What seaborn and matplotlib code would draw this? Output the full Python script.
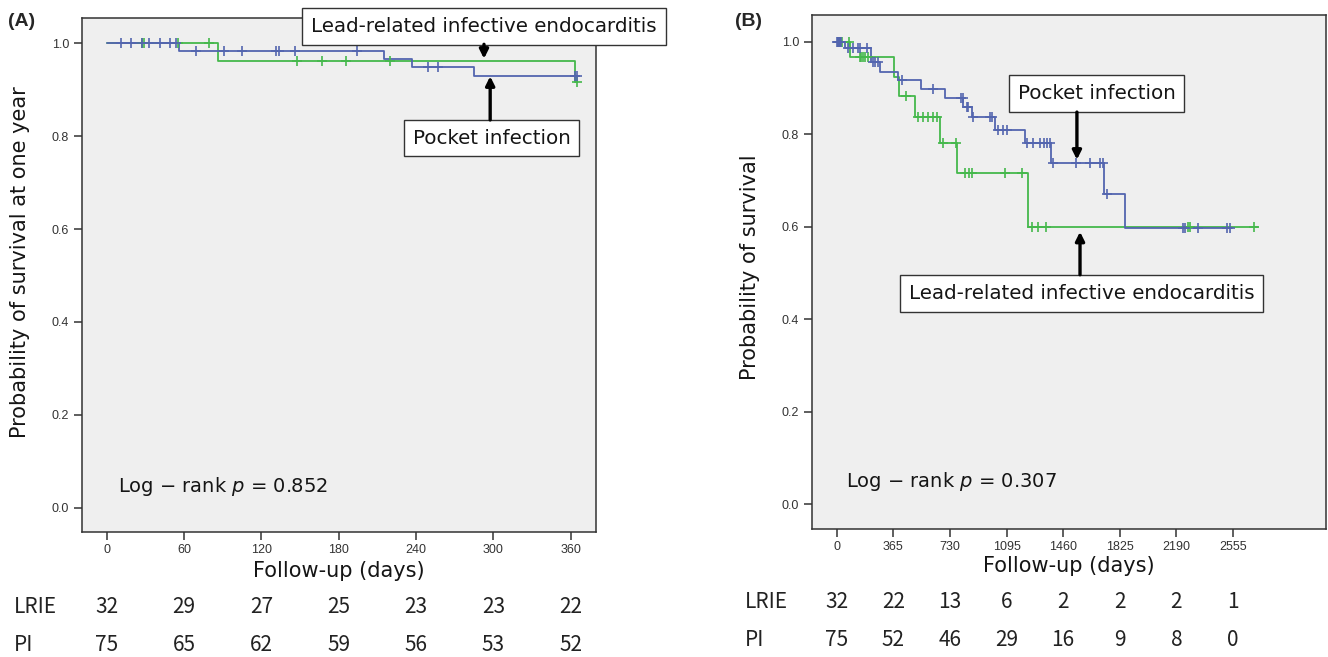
import numpy as np
import matplotlib
matplotlib.use("Agg")
import matplotlib.pyplot as plt
import seaborn as sns

# ---- panel A data (one-year follow-up) ----
a_lrie_times = [0, 86, 363, 365]
a_lrie_surv = [1.0, 0.963, 0.917, 0.917]
a_lrie_cens = [27, 29, 55, 79, 148, 167, 186, 220, 365]

a_pi_times = [0, 56, 215, 237, 285, 365]
a_pi_surv = [1.0, 0.983, 0.966, 0.950, 0.930, 0.930]
a_pi_cens = [11, 19, 27, 33, 41, 49, 54, 69, 91, 105, 131, 134, 146, 194,
             249, 257, 363, 365]

# ---- panel B data (whole follow-up) ----
b_lrie_times = [0, 86, 369, 404, 505, 666, 778, 1233, 2716]
b_lrie_surv = [1.0, 0.968, 0.924, 0.883, 0.838, 0.782, 0.717, 0.599, 0.599]
b_lrie_cens = [8, 20, 35, 77, 148, 159, 170, 180, 202, 445, 526, 558, 590,
               622, 647, 688, 771, 827, 851, 872, 1085, 1193, 1257, 1300,
               1349, 2267, 2278, 2690]

b_pi_times = [0, 52, 220, 277, 395, 546, 698, 815, 870, 1018, 1214, 1380,
              1722, 1857, 2547]
b_pi_surv = [1.0, 0.987, 0.956, 0.935, 0.917, 0.898, 0.878, 0.859, 0.838,
             0.810, 0.782, 0.737, 0.671, 0.597, 0.597]
b_pi_cens = [3, 8, 13, 18, 24, 30, 75, 107, 140, 150, 193, 236, 250, 266,
             419, 621, 800, 812, 838, 848, 881, 988, 999, 1042, 1074, 1100,
             1229, 1268, 1311, 1337, 1354, 1375, 1397, 1543, 1633, 1698,
             1715, 1745, 2231, 2246, 2331, 2514, 2536]

# ---- numbers at risk ----
a_ticks = [0, 60, 120, 180, 240, 300, 360]
a_risk_lrie = [32, 29, 27, 25, 23, 23, 22]
a_risk_pi = [75, 65, 62, 59, 56, 53, 52]

b_ticks = [0, 365, 730, 1095, 1460, 1825, 2190, 2555]
b_risk_lrie = [32, 22, 13, 6, 2, 2, 2, 1]
b_risk_pi = [75, 52, 46, 29, 16, 9, 8, 0]

y_ticks = [0.0, 0.2, 0.4, 0.6, 0.8, 1.0]

GREEN = "#45B84C"
BLUE = "#5365AF"
BG = "#EFEFEF"
TEXT = "#151515"
TABLE_FONT = ["Noto Sans CJK JP", "DejaVu Sans"]

sns.set_theme(style="ticks")
plt.rcParams["font.family"] = ["DejaVu Sans"]

W, H = 1328, 657
fig = plt.figure(figsize=(W / 100, H / 100), dpi=100)


def surv_at(times, surv, t):
    idx = np.searchsorted(times, t, side="right") - 1
    return [surv[i] for i in idx]


def draw_km(ax, times, surv, cens, color):
    sns.lineplot(x=times, y=surv, drawstyle="steps-post", color=color,
                 lw=1.3, estimator=None, sort=False, ax=ax)
    sns.scatterplot(x=cens, y=surv_at(times, surv, cens), marker="+",
                    color=color, s=42, linewidth=1.2, ax=ax, zorder=3)


def style_axes(ax, xticks, xlim, ylim, ylabel, xlabel_y, ylabel_pos):
    ax.set_facecolor(BG)
    ax.set_xlim(*xlim)
    ax.set_ylim(*ylim)
    ax.set_xticks(xticks)
    ax.set_yticks(y_ticks)
    ax.set_yticklabels([f"{v:.1f}" for v in y_ticks])
    for lab in ax.get_xticklabels() + ax.get_yticklabels():
        lab.set_family("Liberation Sans")
        lab.set_fontsize(9)
        lab.set_color("#333333")
    ax.tick_params(length=6, width=1.1, color="#333333", pad=3)
    for sp in ax.spines.values():
        sp.set_color("#333333")
        sp.set_linewidth(1.1)
    ax.set_xlabel("Follow-up (days)", fontsize=15, color=TEXT)
    ax.set_ylabel(ylabel, fontsize=15, color=TEXT)
    ax.xaxis.set_label_coords(0.5, xlabel_y)
    ax.yaxis.set_label_coords(*ylabel_pos)


def text_box(ax, x, y, s):
    ax.text(x, y, s, ha="center", va="center", fontsize=14.3,
            color=TEXT, clip_on=False, zorder=5,
            bbox=dict(boxstyle="square,pad=0.45", fc="white",
                      ec="#333333", lw=1))


def arrow(ax, x, y0, y1):
    ax.annotate("", xy=(x, y1), xytext=(x, y0), annotation_clip=False,
                arrowprops=dict(arrowstyle="-|>", color="black", lw=2.4,
                                mutation_scale=13, shrinkA=0, shrinkB=0),
                zorder=5)


def risk_table(ax, ticks, lrie, pi, label_x, y_lrie, y_pi):
    trans = ax.get_xaxis_transform()
    for t, n1, n2 in zip(ticks, lrie, pi):
        for yy, n in ((y_lrie, n1), (y_pi, n2)):
            ax.text(t, yy, str(n), transform=trans, ha="center",
                    va="center", fontsize=15, color="#222222",
                    family=TABLE_FONT, clip_on=False)
    for yy, name in ((y_lrie, "LRIE"), (y_pi, "PI")):
        fy = fig.transFigure.inverted().transform(
            trans.transform((0, yy)))[1]
        fig.text(label_x, fy, name, ha="left", va="center", fontsize=15,
                 color="#222222", family=TABLE_FONT)


# ---------------- panel A ----------------
axA = fig.add_axes([81.7 / W, 1 - 531.7 / H, 514.3 / W, 513.4 / H])
draw_km(axA, a_lrie_times, a_lrie_surv, a_lrie_cens, GREEN)
draw_km(axA, a_pi_times, a_pi_surv, a_pi_cens, BLUE)
style_axes(axA, a_ticks, (-19.4, 379.6), (-0.052, 1.054),
           "Probability of survival at one year", -0.058, (-0.1, 0.525))

text_box(axA, 292.7, 1.037, "Lead-related infective endocarditis")
arrow(axA, 292.7, 0.998, 0.967)
text_box(axA, 298.5, 0.796, "Pocket infection")
arrow(axA, 297.5, 0.835, 0.929)
axA.text(8.8, 0.045, "Log \u2212 rank $p$ = 0.852", fontsize=14,
         va="center", ha="left", color=TEXT)

risk_table(axA, a_ticks, a_risk_lrie, a_risk_pi, 14 / W,
           (531.7 - 607) / 513.4, (531.7 - 645) / 513.4)
fig.text(8 / W, 1 - 22 / H, "(A)", fontsize=14, fontweight="bold",
         family="Liberation Sans", ha="left", va="center")

# ---------------- panel B ----------------
axB = fig.add_axes([811.7 / W, 1 - 529 / H, 514.3 / W, 514 / H])
draw_km(axB, b_lrie_times, b_lrie_surv, b_lrie_cens, GREEN)
draw_km(axB, b_pi_times, b_pi_surv, b_pi_cens, BLUE)
style_axes(axB, b_ticks, (-161, 3155), (-0.054, 1.058),
           "Probability of survival", -0.052, (-0.1, 0.51))

text_box(axB, 1675, 0.888, "Pocket infection")
arrow(axB, 1549, 0.848, 0.745)
text_box(axB, 1578, 0.455, "Lead-related infective endocarditis")
arrow(axB, 1569, 0.496, 0.589)
axB.text(60, 0.048, "Log \u2212 rank $p$ = 0.307", fontsize=14,
         va="center", ha="left", color=TEXT)

risk_table(axB, b_ticks, b_risk_lrie, b_risk_pi, 745 / W,
           (529 - 602) / 514, (529 - 640) / 514)
fig.text(735 / W, 1 - 22 / H, "(B)", fontsize=14, fontweight="bold",
         family="Liberation Sans", ha="left", va="center")

fig.savefig("out.png", dpi=100)
